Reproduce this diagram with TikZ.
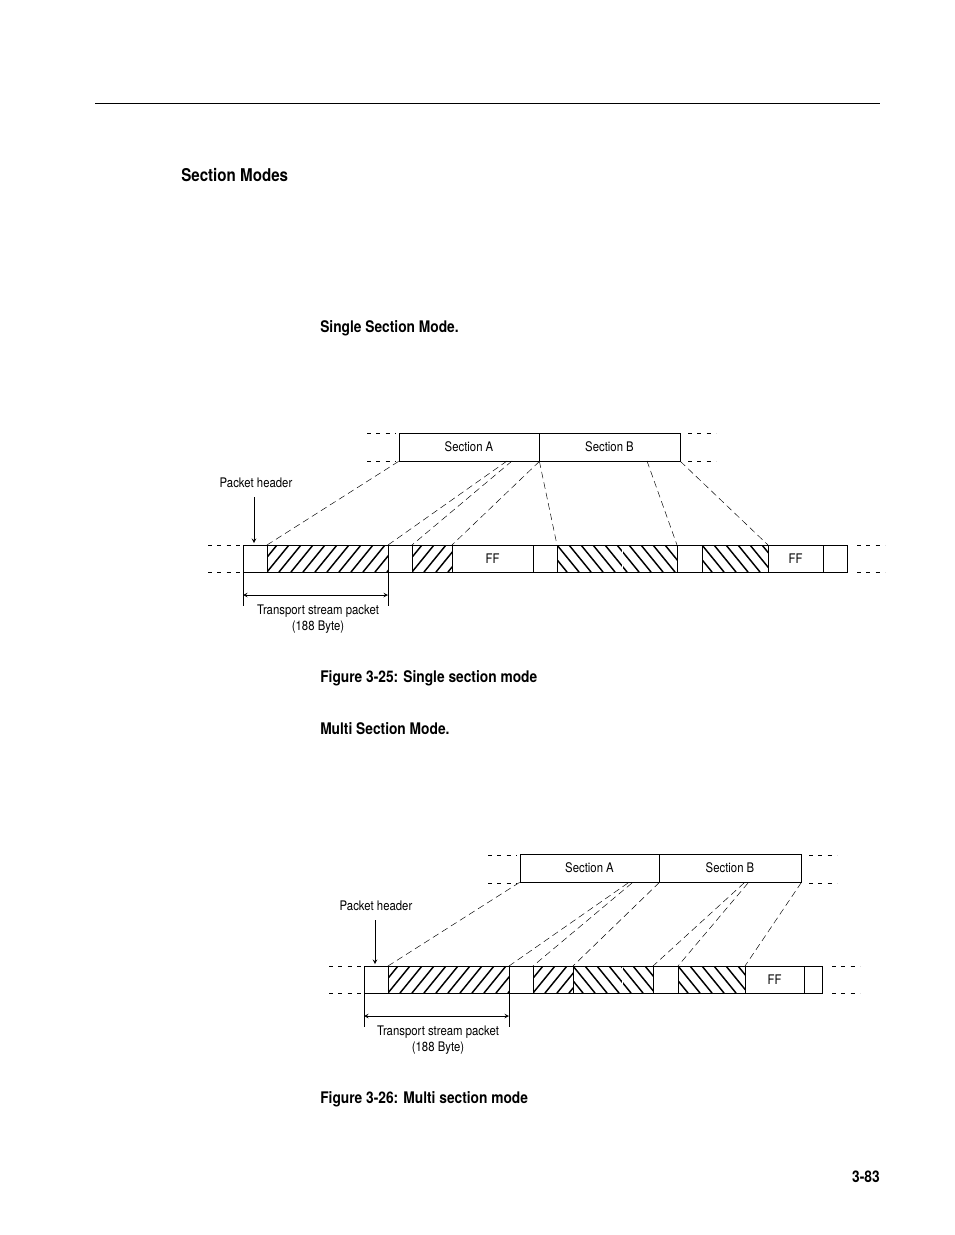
\documentclass[tikz,border=0pt]{standalone}
\usepackage{fontspec}
\setmainfont{TeX Gyre Heros}[FakeStretch=0.86]
\begin{document}
\begin{tikzpicture}[x=0.75pt,y=-0.75pt,
  lbl/.style={font=\fontsize{9.9}{11}\selectfont,inner sep=0},
  hd/.style={font=\bfseries\fontsize{12}{13}\selectfont,anchor=west,inner sep=0},
  cell/.style={draw,line width=0.6pt},
  conn/.style={dashed,dash pattern=on 5pt off 3pt,line width=0.35pt},
  stub/.style={dash pattern=on 3pt off 4pt,line width=0.5pt},
  hl/.style={line width=1.1pt}]
\useasboundingbox (0,0) rectangle (954,1235);
\newcommand\hatchF[4]{\begin{scope}\clip (#1,#3) rectangle (#2,#4);
  \foreach \k in {-60,-48,...,200}{\draw[hl] (#1+\k,#4) -- ++(22,-27);}\end{scope}
  \draw[line width=0.6pt] (#1,#3) -- (#1,#4) (#2,#3) -- (#2,#4);}
\newcommand\hatchB[4]{\begin{scope}\clip (#1,#3) rectangle (#2,#4);
  \foreach \k in {-60,-48,...,200}{\draw[hl] (#1+\k,#3) -- ++(22,27);}\end{scope}
  \draw[line width=0.6pt] (#1,#3) -- (#1,#4) (#2,#3) -- (#2,#4);}
\draw[line width=0.6pt] (95,103) -- (880,103);
\node[hd] (t0) at (181,175) {\fontsize{13.2}{14}\selectfont Section Modes};
\node[hd] (t1) at (320,328) {Single Section Mode.};
\node[hd] (t2) at (320,678) {Figure 3-25: Single section mode};
\node[hd] (t3) at (320,729) {Multi Section Mode.};
\node[hd] (t4) at (320,1099) {Figure 3-26: Multi section mode};
\node[hd,anchor=east] (pg) at (880,1177) {3-83};
% ---------- diagram 1
\node[cell,minimum width=105pt,minimum height=21pt,inner sep=0,lbl] (sa1) at (469,447) {Section A};
\node[cell,minimum width=105.75pt,minimum height=21pt,inner sep=0,lbl] (sb1) at (609.5,447) {Section B};
\draw[stub] (367,433) -- (396,433) (367,461) -- (396,461) (688,433) -- (716,433) (688,461) -- (716,461);
\draw[stub] (208,545) -- (240,545) (208,572) -- (240,572) (857,545) -- (885,545) (857,572) -- (885,572);
\draw[cell] (243,545) rectangle (847,572);
\foreach \xx in {267,388,412,452,533,557,677,702,768,823}{\draw[line width=0.6pt] (\xx,545) -- (\xx,572);}
\hatchF{267}{388}{545}{572}
\hatchF{412}{452}{545}{572}
\hatchB{557}{677}{545}{572}
\hatchB{702}{768}{545}{572}
\node[lbl] (ff1) at (492.5,559) {FF};
\node[lbl] (ff2) at (795.5,559) {FF};
\coordinate (p1) at (267,545); \coordinate (p2) at (388,545); \coordinate (p3) at (412,545);
\coordinate (p4) at (452,545); \coordinate (p5) at (557,545); \coordinate (p6) at (677,545); \coordinate (p7) at (768,545);
\draw[conn] (sa1.south west) -- (p1);
\draw[conn] (507,461) -- (p2);
\draw[conn] (512,461) -- (p3);
\draw[conn] (sa1.south east) -- (p4);
\draw[conn] (sa1.south east) -- (p5);
\draw[conn] (647,461) -- (p6);
\draw[conn] (sb1.south east) -- (p7);
\node[lbl] (ph1) at (256,483) {Packet header};
\draw[->,>=stealth,line width=0.5pt] (254,497) -- (254,543);
\draw[line width=0.5pt] (243,572) -- (243,606) (388,572) -- (388,606);
\draw[<->,>=stealth,line width=0.5pt] (243,595) -- (388,595);
\node[lbl,align=center] (tsp1) at (318,619) {Transport stream packet\\[1.5pt](188 Byte)};
% ---------- diagram 2
\node[cell,minimum width=104.25pt,minimum height=21pt,inner sep=0,lbl] (sa2) at (589.5,868) {Section A};
\node[cell,minimum width=106.5pt,minimum height=21pt,inner sep=0,lbl] (sb2) at (730,868) {Section B};
\draw[stub] (488,855) -- (517,855) (488,883) -- (517,883) (809,855) -- (837,855) (809,883) -- (837,883);
\draw[stub] (329,966) -- (361,966) (329,993) -- (361,993) (832,966) -- (860,966) (832,993) -- (860,993);
\draw[cell] (364,966) rectangle (822,993);
\foreach \xx in {388,509,533,573,653,678,745,804}{\draw[line width=0.6pt] (\xx,966) -- (\xx,993);}
\hatchF{388}{509}{966}{993}
\hatchF{533}{573}{966}{993}
\hatchB{573}{653}{966}{993}
\hatchB{678}{745}{966}{993}
\draw[white,line width=0.4pt] (622,967) -- (622,992);
\draw[white,line width=0.4pt] (622,546) -- (622,571);
\node[lbl] (ff3) at (774.5,980) {FF};
\coordinate (q1) at (388,966); \coordinate (q2) at (509,966); \coordinate (q3) at (533,966);
\coordinate (q4) at (573,966); \coordinate (q5) at (653,966); \coordinate (q6) at (678,966); \coordinate (q7) at (745,966);
\draw[conn] (sa2.south west) -- (q1);
\draw[conn] (628,883) -- (q2);
\draw[conn] (632,883) -- (q3);
\draw[conn] (sa2.south east) -- (q4);
\draw[conn] (744,883) -- (q5);
\draw[conn] (748,883) -- (q6);
\draw[conn] (sb2.south east) -- (q7);
\node[lbl] (ph2) at (376,906) {Packet header};
\draw[->,>=stealth,line width=0.5pt] (375,920) -- (375,964);
\draw[line width=0.5pt] (364,993) -- (364,1027) (509,993) -- (509,1027);
\draw[<->,>=stealth,line width=0.5pt] (364,1016) -- (509,1016);
\node[lbl,align=center] (tsp2) at (438,1040) {Transport stream packet\\[1.5pt](188 Byte)};
\end{tikzpicture}
\end{document}
